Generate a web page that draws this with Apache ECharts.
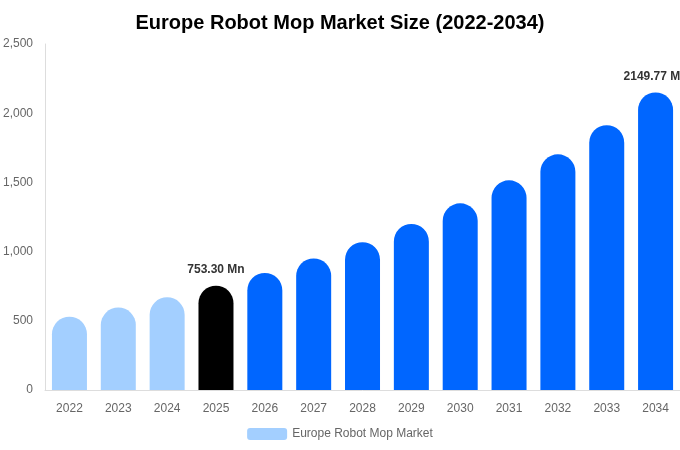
<!DOCTYPE html>
<html><head><meta charset="utf-8">
<script src="https://cdn.jsdelivr.net/npm/echarts@6/dist/echarts.min.js"></script>
<style>html,body{margin:0;padding:0;background:#fff}#c{width:680px;height:450px}</style>
</head><body><div id="c"></div>
<script>
const categories = ['2022','2023','2024','2025','2026','2027','2028','2029','2030','2031','2032','2033','2034'];
const values = [530, 596, 670, 753.30, 846, 951, 1068, 1200, 1349, 1515, 1703, 1913, 2149.77];
const barColors = ['#a3cfff','#a3cfff','#a3cfff','#000000','#0066ff','#0066ff','#0066ff','#0066ff','#0066ff','#0066ff','#0066ff','#0066ff','#0066ff'];
const labelled = {3: '753.30 Mn', 12: '2149.77 Mn'};
const yTicks = [0, 500, 1000, 1500, 2000, 2500];

const chart = echarts.init(document.getElementById('c'));
chart.setOption({
  animation: false,
  title: {text: 'Europe Robot Mop Market Size (2022-2034)', left: 'center', top: 8,
    textStyle: {fontFamily: 'Liberation Sans, Arial, sans-serif', fontSize: 20, fontWeight: 'bold', color: '#000'}},
  legend: {bottom: 5, itemWidth: 40, itemHeight: 12, data: ['Europe Robot Mop Market'],
    textStyle: {fontFamily: 'Liberation Sans, Arial, sans-serif', fontSize: 12, color: '#666'}},
  grid: {left: 44, right: 0, top: 44, bottom: 60},
  xAxis: {type: 'category', data: categories,
    axisLine: {lineStyle: {color: '#ddd'}}, axisTick: {show: false},
    axisLabel: {color: '#666', fontSize: 12, fontFamily: 'Liberation Sans, Arial, sans-serif', margin: 13}},
  yAxis: {type: 'value', min: yTicks[0], max: yTicks[yTicks.length-1], interval: 500,
    axisLine: {show: true, lineStyle: {color: '#ddd'}}, splitLine: {show: false},
    axisLabel: {color: '#666', fontSize: 12, fontFamily: 'Liberation Sans, Arial, sans-serif', margin: 12,
      formatter: v => v.toLocaleString('en-US')}},
  series: [{
    name: 'Europe Robot Mop Market', type: 'bar', barWidth: 35,
    itemStyle: {color: '#a3cfff'},
    data: values.map((v, i) => ({
      value: v,
      itemStyle: {color: barColors[i], borderRadius: [18, 18, 0, 0]},
      label: labelled[i] ? {show: true, position: 'top', distance: 10, formatter: labelled[i],
        fontFamily: 'Liberation Sans, Arial, sans-serif', fontSize: 12, fontWeight: 'bold', color: '#333'} : {show: false}
    }))
  }]
});
</script></body></html>
